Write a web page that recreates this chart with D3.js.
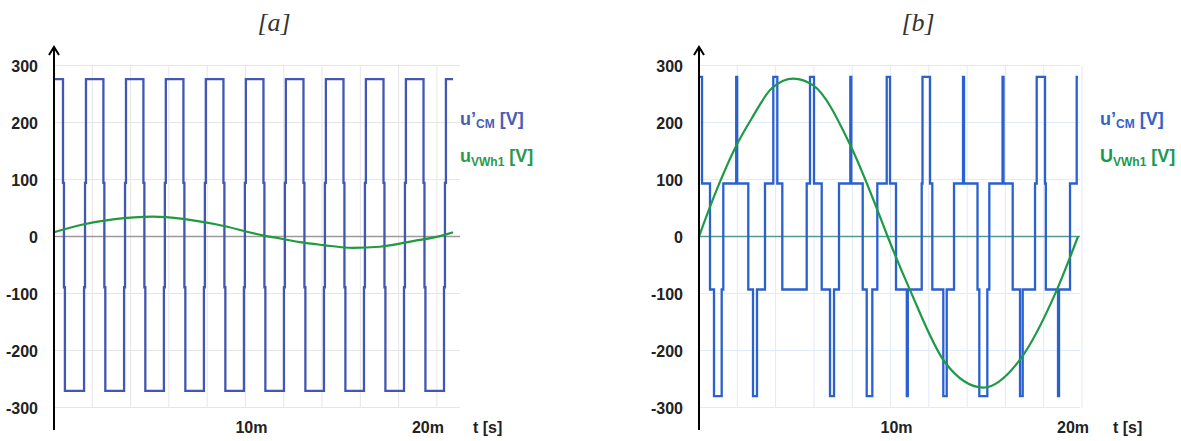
<!DOCTYPE html>
<html>
<head>
<meta charset="utf-8">
<script src="https://cdn.jsdelivr.net/npm/d3@7/dist/d3.min.js"></script>
<style>
  body { margin: 0; background: #fff; }
  svg { display: block; }
  text { font-family: "Liberation Sans", Arial, sans-serif; }
</style>
</head>
<body>
<div id="chart"></div>
<script>
///////////////////////////////////////////////////////////////////////////
/////////////////////////////////// Data //////////////////////////////////
///////////////////////////////////////////////////////////////////////////

// y axis tick labels (V) and time labels (ms)
var yTicks = [300, 200, 100, 0, -100, -200, -300]
var gridTimes = [2, 4, 6, 8, 10, 12, 14, 16, 18, 20]
var timeLabels = [{t: 10, label: "10m"}, {t: 20, label: "20m"}]

// [a] u'CM : levels and switching instants (ms)
var aLevels = [276, 94, -89, -271]
var aFall = [0.47, 2.58, 4.67, 6.76, 8.85, 10.94, 13.03, 15.12, 17.21, 19.30]
var aRise = [1.57, 3.66, 5.74, 7.83, 9.92, 12.01, 14.10, 16.19, 18.28, 20.37]
var aEnd = 20.84

// [a] uVWh1 [t ms, V]
var aFund = [[0, 7.5], [1.51, 21], [3.08, 30], [5.17, 35], [6.74, 31], [8.51, 21],
  [10.91, 2], [11.80, -3.5], [12.85, -10], [14.05, -15], [15.61, -20], [17.02, -18],
  [18.75, -8], [20.31, 2], [20.84, 7.5]]

// [b] u'CM : step-after breakpoints [t ms, V]
var bCM = [[0, 280], [0.157, 93], [0.574, -93], [0.783, -280], [1.185, -93], [1.269, 93],
  [1.943, 280], [1.995, 93], [2.574, -93], [2.820, -280], [3.029, -93], [3.446, 93],
  [3.880, 280], [4.089, 93], [4.350, -93], [5.624, 93], [5.796, 280], [6.005, 93],
  [6.407, -93], [6.841, -280], [7.050, -93], [7.311, 93], [7.901, 280], [7.953, 93],
  [8.548, -93], [8.757, -280], [9.050, -93], [9.311, 93], [9.802, 280], [9.974, 93],
  [10.287, -93], [10.851, -280], [10.903, -93], [11.629, 93], [11.671, 280], [12.063, 93],
  [12.183, -93], [12.757, -280], [12.935, -93], [13.316, 93], [13.786, 280], [13.838, 93],
  [14.543, -93], [14.637, -280], [15.055, -93], [15.159, 93], [15.849, 280], [15.901, 93],
  [16.381, -93], [16.762, -280], [16.903, -93], [17.546, 93], [17.634, 280], [18.068, 93],
  [18.110, -93], [18.747, -280], [18.799, -93], [19.373, 93], [19.723, 280], [19.79, 280]]
var bEnd = 19.79

// [b] UVWh1 [t ms, V]
var bFund = [[0, 0], [0.9, 80], [1.88, 155], [2.75, 207], [3.8, 260], [4.93, 277],
  [5.97, 265], [7.89, 161], [9.3, 48], [9.85, 0], [11.02, -94], [12.85, -221],
  [14.85, -265], [16.76, -216], [18.68, -94], [19.79, 0]]

///////////////////////////////////////////////////////////////////////////
//////////////////////////// Set up the canvas ////////////////////////////
///////////////////////////////////////////////////////////////////////////

var width = 1181,
    height = 441

const svg = d3.select("#chart").append("svg")
    .attr("width", width)
    .attr("height", height)

svg.append("rect").attr("width", width).attr("height", height).attr("fill", "#fff")

// turn the [a] edge lists into a path with the small kinks at the middle levels
function edgesToPoints(levels, falls, rises, tEnd) {
    var d = 0.05
    var ev = falls.map(t => ({t: t, down: true})).concat(rises.map(t => ({t: t, down: false})))
    ev.sort((p, q) => p.t - q.t)
    var pts = [[0, levels[0]]]
    ev.forEach(function(e) {
        var L = e.down ? levels : levels.slice().reverse()
        pts.push([e.t, L[0]], [e.t, L[1]], [e.t + d, L[1]], [e.t + d, L[2]], [e.t + 2 * d, L[2]], [e.t + 2 * d, L[3]])
    })
    pts.push([tEnd, pts[pts.length - 1][1]])
    return pts
}

var panels = [
    {title: "[a]", titleX: 274, x0: 54, x1: 453, gridEnd: 460, tEnd: aEnd,
     cm: edgesToPoints(aLevels, aFall, aRise, aEnd), cmCurve: d3.curveLinear, fund: aFund,
     blue: "#4256b3", green: "#1f9a3f", grid: "#e6e6e6", zero: "#9a9a9a",
     legX: 460, legBlue: "#4a5cb6", legGreen: "#2a9a48", fundName: "u", tX: 473},
    {title: "[b]", titleX: 918, x0: 699, x1: 1078, gridEnd: 1080, tEnd: bEnd,
     cm: bCM, cmCurve: d3.curveStepAfter, fund: bFund,
     blue: "#2b60cf", green: "#1e9a46", grid: "#e2eaf5", zero: "#4f9a98",
     legX: 1100, legBlue: "#3562c8", legGreen: "#1a9a50", fundName: "U", tX: 1113}
]

var y = d3.scaleLinear().domain([-300, 300]).range([407.5, 65.5])

panels.forEach(drawPanel)

function drawPanel(p) {

    var x = d3.scaleLinear().domain([0, p.tEnd]).range([p.x0, p.x1])
    var g = svg.append("g")

    ///////////////////////////////////////////////////////////////////////////
    ////////////////////////////////// Grid ///////////////////////////////////
    ///////////////////////////////////////////////////////////////////////////

    g.selectAll(".vgrid")
        .data(gridTimes)
        .enter().append("line")
        .attr("x1", d => x(d)).attr("x2", d => x(d))
        .attr("y1", y(300)).attr("y2", y(-300))
        .attr("stroke", p.grid).attr("stroke-width", 1)

    g.selectAll(".hgrid")
        .data(yTicks.filter(d => d !== 0))
        .enter().append("line")
        .attr("x1", p.x0).attr("x2", p.gridEnd)
        .attr("y1", d => y(d)).attr("y2", d => y(d))
        .attr("stroke", p.grid).attr("stroke-width", 1.2)

    g.append("line")
        .attr("x1", p.x0).attr("x2", p.gridEnd)
        .attr("y1", y(0)).attr("y2", y(0))
        .attr("stroke", p.zero).attr("stroke-width", 1.3)

    ///////////////////////////////////////////////////////////////////////////
    ///////////////////////////////// Curves //////////////////////////////////
    ///////////////////////////////////////////////////////////////////////////

    g.append("path")
        .datum(p.cm)
        .attr("d", d3.line().x(d => x(d[0])).y(d => y(d[1])).curve(p.cmCurve))
        .attr("fill", "none")
        .attr("stroke", p.blue)
        .attr("stroke-width", 2.3)

    g.append("path")
        .datum(p.fund)
        .attr("d", d3.line().x(d => x(d[0])).y(d => y(d[1])).curve(d3.curveMonotoneX))
        .attr("fill", "none")
        .attr("stroke", p.green)
        .attr("stroke-width", 2.2)

    ///////////////////////////////////////////////////////////////////////////
    ////////////////////////////////// Axes ///////////////////////////////////
    ///////////////////////////////////////////////////////////////////////////

    g.append("line")
        .attr("x1", p.x0).attr("x2", p.x0)
        .attr("y1", 430).attr("y2", 47)
        .attr("stroke", "#000").attr("stroke-width", 2)
    g.append("path")
        .attr("d", `M${p.x0 - 5},${55} L${p.x0},${47} L${p.x0 + 5},${55}`)
        .attr("fill", "none").attr("stroke", "#000").attr("stroke-width", 2)

    g.selectAll(".ylab")
        .data(yTicks)
        .enter().append("text")
        .attr("x", p.x0 - 16)
        .attr("y", d => y(d) + 6)
        .attr("text-anchor", "end")
        .attr("font-size", 16).attr("font-weight", "bold")
        .attr("fill", "#222")
        .text(d => d)

    var labelShift = {10: 6, 20: -9}
    g.selectAll(".xlab")
        .data(timeLabels)
        .enter().append("text")
        .attr("x", d => x(d.t) + labelShift[d.t])
        .attr("y", 433)
        .attr("text-anchor", "middle")
        .attr("font-size", 16).attr("font-weight", "bold")
        .attr("fill", "#222")
        .text(d => d.label)

    g.append("text")
        .attr("x", p.tX).attr("y", 433)
        .attr("font-size", 16).attr("font-weight", "bold")
        .attr("fill", "#222")
        .text("t [s]")

    ///////////////////////////////////////////////////////////////////////////
    ///////////////////////////// Title & legend //////////////////////////////
    ///////////////////////////////////////////////////////////////////////////

    g.append("text")
        .attr("x", p.titleX).attr("y", 31)
        .attr("text-anchor", "middle")
        .style("font-family", "'Liberation Serif', 'Times New Roman', serif")
        .attr("font-style", "italic")
        .attr("font-size", 26)
        .attr("fill", "#333")
        .text(p.title)

    var l1 = g.append("text")
        .attr("x", p.legX).attr("y", 125)
        .attr("font-size", 18).attr("font-weight", "bold")
        .attr("fill", p.legBlue)
    l1.append("tspan").text("u\u2019")
    l1.append("tspan").attr("font-size", 12).attr("dy", 3).text("CM")
    l1.append("tspan").attr("dy", -3).text(" [V]")

    var l2 = g.append("text")
        .attr("x", p.legX).attr("y", 162)
        .attr("font-size", 18).attr("font-weight", "bold")
        .attr("fill", p.legGreen)
    l2.append("tspan").text(p.fundName)
    l2.append("tspan").attr("font-size", 12).attr("dy", 4).text("VWh1")
    l2.append("tspan").attr("dy", -4).text(" [V]")

}//function drawPanel
</script>
</body>
</html>
